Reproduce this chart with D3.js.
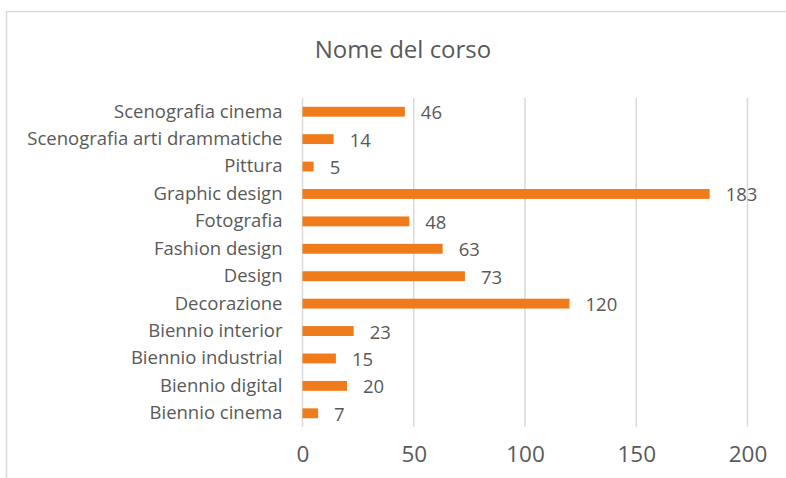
<!DOCTYPE html>
<html>
<head>
<meta charset="utf-8">
<script src="https://cdn.jsdelivr.net/npm/d3@7"></script>
<style>
  body { margin: 0; background: #fff; }
  text { font-family: "Open Sans", sans-serif; fill: #595959; }
</style>
</head>
<body>
<div id="chart"></div>
<script>
//Data
var courses = ["Scenografia cinema", "Scenografia arti drammatiche", "Pittura", "Graphic design",
    "Fotografia", "Fashion design", "Design", "Decorazione", "Biennio interior",
    "Biennio industrial", "Biennio digital", "Biennio cinema"];
var counts = [46, 14, 5, 183, 48, 63, 73, 120, 23, 15, 20, 7];
var xTicks = [0, 50, 100, 150, 200];
var chartTitle = "Nome del corso";

var width = 786, height = 478;
var plot = { left: 302.5, right: 747.5, top: 98, bottom: 427 };

var svg = d3.select("#chart").append("svg")
    .attr("width", width)
    .attr("height", height);

//Chart border
svg.append("rect")
    .attr("x", 6.5)
    .attr("y", 11.5)
    .attr("width", 800)
    .attr("height", 500)
    .attr("fill", "#fff")
    .attr("stroke", "#d9d9d9")
    .attr("stroke-width", 1.5);

var x = d3.scaleLinear().domain([0, 200]).range([plot.left, plot.right]);
var y = d3.scaleBand().domain(courses).range([plot.top, plot.bottom])
    .paddingInner(0.64)
    .paddingOuter(0.32);

//Gridlines
svg.append("g")
    .selectAll("line")
    .data(xTicks)
    .join("line")
    .attr("x1", d => x(d))
    .attr("x2", d => x(d))
    .attr("y1", plot.top)
    .attr("y2", plot.bottom)
    .attr("stroke", "#d9d9d9")
    .attr("stroke-width", 1.5);

//X axis labels
var xAxis = svg.append("g")
    .attr("transform", "translate(0," + plot.bottom + ")")
    .call(d3.axisBottom(x).tickValues(xTicks).tickSize(0).tickPadding(19));
xAxis.select(".domain").remove();
xAxis.selectAll("text")
    .style("font-family", "'Open Sans', sans-serif")
    .style("font-size", "22.5px")
    .attr("fill", "#595959");

//Y axis labels
var yAxis = svg.append("g")
    .attr("transform", "translate(" + plot.left + ",0)")
    .call(d3.axisLeft(y).tickSize(0).tickPadding(20));
yAxis.select(".domain").remove();
yAxis.selectAll("text")
    .style("font-family", "'Open Sans', sans-serif")
    .style("font-size", "18.5px")
    .attr("fill", "#595959");

//Bars
var data = courses.map((c, i) => ({ name: c, value: counts[i] }));
svg.append("g")
    .selectAll("rect")
    .data(data)
    .join("rect")
    .attr("x", x(0))
    .attr("y", d => y(d.name))
    .attr("width", d => x(d.value) - x(0))
    .attr("height", y.bandwidth())
    .attr("fill", "#ef7b1a");

//Value labels
svg.append("g")
    .selectAll("text")
    .data(data)
    .join("text")
    .attr("x", d => x(d.value) + 16)
    .attr("y", d => y(d.name) + y.bandwidth() / 2 + 1)
    .attr("dy", "0.35em")
    .style("font-size", "18.5px")
    .text(d => d.value);

//Title
svg.append("text")
    .attr("x", 403)
    .attr("y", 58)
    .attr("text-anchor", "middle")
    .style("font-size", "24px")
    .text(chartTitle);
</script>
</body>
</html>
